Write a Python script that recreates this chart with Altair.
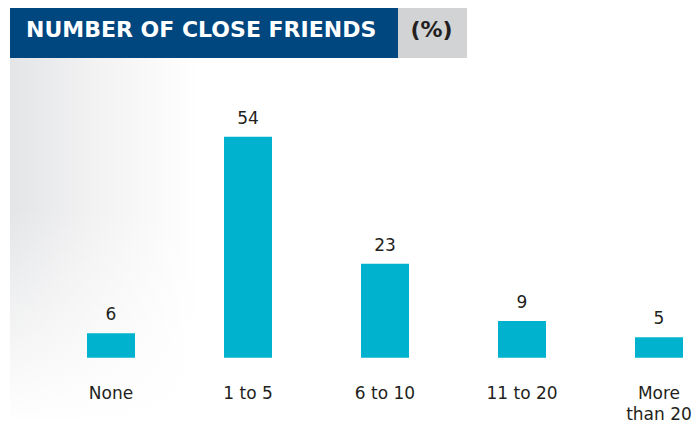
import altair as alt
import pandas as pd

categories = ["None", "1 to 5", "6 to 10", "11 to 20", "More\nthan 20"]
values = [6, 54, 23, 9, 5]

title_text = "NUMBER OF CLOSE FRIENDS"
unit_text = "(%)"

BAR = "#00B2CD"
NAVY = "#00467F"
GREY = "#D1D3D4"
INK = "#231F20"
FONT = "DejaVu Sans"

df = pd.DataFrame({"cat": categories, "val": values})
one = alt.Data(values=[{}])

x_enc = alt.X("cat:N", sort=categories, axis=None,
              scale=alt.Scale(range=[34.5, 719.5], paddingInner=0, paddingOuter=0))
y_scale = alt.Scale(domain=[0, 85.5], range=[349.7, 0], nice=False, zero=True)

bg_h = alt.Chart(one).mark_rect(
    fill={
        "gradient": "linear",
        "x1": 0, "y1": 0, "x2": 1, "y2": 0,
        "stops": [
            {"offset": 0, "color": "#e4e5e7"},
            {"offset": 0.45, "color": "#f2f2f3"},
            {"offset": 1, "color": "#ffffff"},
        ],
    }
).encode(x=alt.value(2), x2=alt.value(190), y=alt.value(50), y2=alt.value(417))

bg_v = alt.Chart(one).mark_rect(
    fill={
        "gradient": "linear",
        "x1": 0, "y1": 0, "x2": 0, "y2": 1,
        "stops": [
            {"offset": 0, "color": "rgba(255,255,255,0)"},
            {"offset": 1, "color": "rgba(255,255,255,1)"},
        ],
    }
).encode(x=alt.value(2), x2=alt.value(190), y=alt.value(200), y2=alt.value(417))

banner = alt.Chart(one).mark_rect(fill=NAVY).encode(
    x=alt.value(2), x2=alt.value(390), y=alt.value(0), y2=alt.value(50))
unitbox = alt.Chart(one).mark_rect(fill=GREY).encode(
    x=alt.value(390), x2=alt.value(459), y=alt.value(0), y2=alt.value(50))

title = alt.Chart(one).mark_text(
    font=FONT, fontSize=22, fontWeight="bold", color="white",
    align="left", baseline="alphabetic"
).encode(x=alt.value(18), y=alt.value(29.3), text=alt.value(title_text))

unit = alt.Chart(one).mark_text(
    font=FONT, fontSize=22, fontWeight="bold", color=INK,
    align="center", baseline="alphabetic"
).encode(x=alt.value(423.5), y=alt.value(28.5), text=alt.value(unit_text))

base = alt.Chart(df)

bars = base.mark_bar(color=BAR, size=48).encode(
    x=x_enc, y=alt.Y("val:Q", scale=y_scale, axis=None))

vals = base.mark_text(
    font=FONT, fontSize=17, color=INK, align="center", baseline="alphabetic", dy=-13
).encode(x=x_enc, y=alt.Y("val:Q", scale=y_scale), text=alt.Text("val:Q"))

cats = base.mark_text(
    font=FONT, fontSize=17, color=INK, align="center", baseline="alphabetic",
    lineBreak="\n", lineHeight=21
).encode(x=x_enc, y=alt.value(391.3), text=alt.Text("cat:N"))

chart = alt.layer(bg_h, bg_v, banner, unitbox, title, unit, bars, vals, cats).properties(
    width=684, height=417,
    autosize=alt.AutoSizeParams(type="none"),
    padding=0,
    background="white",
).configure_view(strokeWidth=0)

chart.save("out.html", embed_options={"renderer": "svg", "actions": False})
